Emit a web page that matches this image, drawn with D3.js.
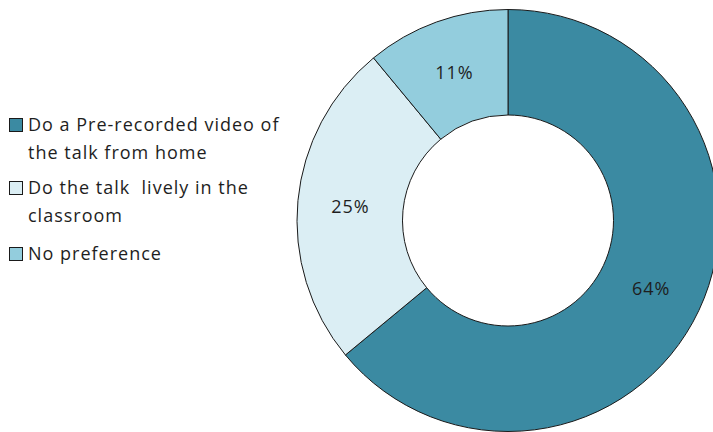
<!DOCTYPE html>
<html>
<head>
<meta charset="utf-8">
<script src="https://cdn.jsdelivr.net/npm/d3@7"></script>
<style>
  html, body { margin: 0; padding: 0; background: #fff; }
  svg { display: block; }
  text { font-family: "Open Sans", Lato, sans-serif; fill: #1e1e1e; }
</style>
</head>
<body>
<svg id="chart" width="713" height="432"></svg>
<script>
// Survey answers: how students prefer to give their talk
const categories = [
  "Do a Pre-recorded video of the talk from home",
  "Do the talk  lively in the classroom",
  "No preference"
];
const legendLines = [
  ["Do a Pre-recorded video of", "the talk from home"],
  ["Do the talk  lively in the", "classroom"],
  ["No preference"]
];
const values = [64, 25, 11];
const colors = ["#3B8AA2", "#DBEEF4", "#93CDDD"];

const svg = d3.select("#chart");

// Donut geometry
const cx = 508, cy = 220.5;
const outerR = 211, innerR = 105.5;

const color = d3.scaleOrdinal().domain(categories).range(colors);

const pie = d3.pie()
  .value(d => d.value)
  .sort(null);

const data = categories.map((c, i) => ({ category: c, value: values[i] }));
const arcs = pie(data);

const arc = d3.arc().innerRadius(innerR).outerRadius(outerR);
const labelArc = d3.arc().innerRadius((innerR + outerR) / 2).outerRadius((innerR + outerR) / 2);

const g = svg.append("g").attr("transform", `translate(${cx},${cy})`);

g.selectAll("path.slice")
  .data(arcs)
  .join("path")
  .attr("class", "slice")
  .attr("d", arc)
  .attr("fill", d => color(d.data.category))
  .attr("stroke", "#1a1a1a")
  .attr("stroke-width", 1);

g.selectAll("text.pct")
  .data(arcs)
  .join("text")
  .attr("class", "pct")
  .attr("transform", d => `translate(${labelArc.centroid(d)})`)
  .attr("text-anchor", "middle")
  .attr("dy", "0.4em")
  .style("font-size", "18px")
  .style("letter-spacing", "1px")
  .text(d => d.data.value + "%");

// Legend
const legendX = 9, textX = 28;
const lineH = 28;
const itemBaselines = [131, 194, 260];

const legend = svg.append("g").attr("class", "legend");
categories.forEach((c, i) => {
  const base = itemBaselines[i];
  legend.append("rect")
    .attr("x", legendX + 0.5)
    .attr("y", base - 12.5)
    .attr("width", 13)
    .attr("height", 13)
    .attr("fill", color(c))
    .attr("stroke", "#1a1a1a")
    .attr("stroke-width", 1);
  legendLines[i].forEach((ln, j) => {
    legend.append("text")
      .attr("x", textX)
      .attr("y", base + j * lineH)
      .attr("xml:space", "preserve")
      .style("white-space", "pre")
      .style("font-size", "18px")
      .style("letter-spacing", "1px")
      .text(ln);
  });
});
</script>
</body>
</html>
